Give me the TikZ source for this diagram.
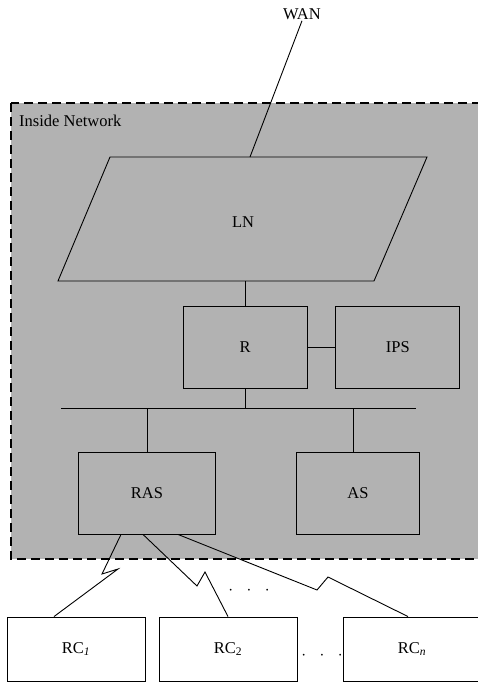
\documentclass[tikz,border=0pt]{standalone}
\usepackage{fontspec}
\setmainfont{Liberation Serif}
\usepackage{xcolor}
\definecolor{NetGray}{HTML}{B2B2B2}
\usetikzlibrary{positioning, calc}
\tikzset{
    unitbox/.style={draw, line width=0.9pt, minimum height=82pt, inner sep=0pt},
    clientbox/.style={draw, fill=white, line width=0.9pt, minimum width=138pt, minimum height=64pt, inner sep=0pt},
    wire/.style={line width=0.9pt},
}

\begin{document}
\begin{tikzpicture}[x=1pt, y=-1pt, font=\fontsize{16.5}{19}\selectfont]
    \useasboundingbox (0,0) rectangle (477,683);

    % Inside network area
    \draw[fill=NetGray, line width=1.6pt, dash pattern=on 9pt off 5pt] (11,103) rectangle (490,559);
    \node[anchor=west, inner sep=0pt] (inside) at (19,121) {Inside Network};

    % WAN and LN
    \node[inner sep=1pt] (wan) at (302,14) {WAN};
    \draw[wire] (58,281) -- (110,157) -- (427,157) -- (374,281) -- cycle;
    \node (ln) at (243,222) {LN};
    \coordinate (lntop) at (250,157);
    \coordinate (lnbot) at (245,281);
    \draw[wire] (wan.south) -- (lntop);

    % R and IPS
    \node[unitbox, minimum width=124pt] (r) at (245,347) {R};
    \node[unitbox, minimum width=124pt, right=28pt of r] (ips) {IPS};
    \draw[wire] (lnbot) -- (r.north);
    \draw[wire] (r.east) -- (ips.west);

    % Bus
    \coordinate (busl) at (61,408);
    \coordinate (busr) at (416,408);
    \draw[wire] (busl) -- (busr);
    \draw[wire] (r.south) -- (r.south |- busl);

    % RAS and AS
    \node[unitbox, minimum width=137pt] (ras) at (147,493) {RAS};
    \node[unitbox, minimum width=123pt] (as) at (358,493) {AS};
    \draw[wire] (ras.north) -- (ras.north |- busl);
    \draw[wire] (as.north -| 353,0) -- (353,408);

    % Remote clients
    \node[clientbox] (rc1) at (76,649) {RC\textsubscript{\itshape 1}};
    \node[clientbox] (rc2) at (228,649) {RC\textsubscript{2}};
    \node[clientbox] (rcn) at (412,649) {RC\textsubscript{\itshape n}};
    \node (dotsa) at (249,591) {$\cdot\;\;\cdot\;\;\cdot$};
    \node (dotsb) at (322,656) {$\cdot\;\;\cdot\;\;\cdot$};

    % Dial-up links
    \draw[wire] ([xshift=-26pt]ras.south) -- (102,574) -- (118,569) -- ([xshift=-22pt]rc1.north);
    \draw[wire] ([xshift=-4pt]ras.south) -- (197,586) -- (205,572) -- (rc2.north);
    \draw[wire] ([xshift=31pt]ras.south) -- (317,590) -- (328,577) -- ([xshift=-4pt]rcn.north);
\end{tikzpicture}
\end{document}
